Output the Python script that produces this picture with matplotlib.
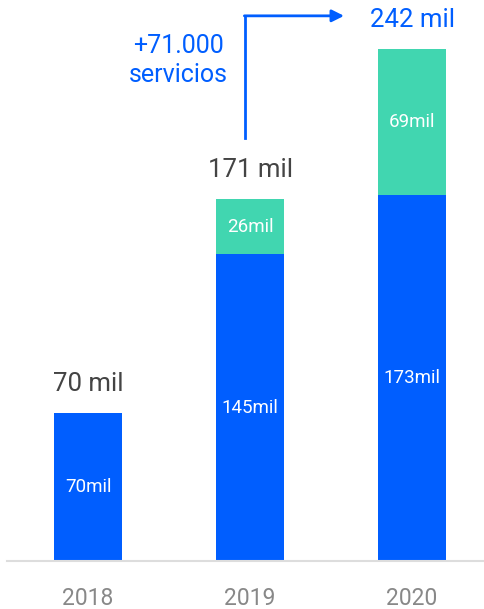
import matplotlib.pyplot as plt

plt.rcParams['font.family'] = ['Roboto', 'DejaVu Sans']

# data (miles de servicios)
years = ['2018', '2019', '2020']
base = [70, 145, 173]
extra = [0, 26, 69]
totals = [70, 171, 242]
base_labels = ['70mil', '145mil', '173mil']
extra_labels = ['', '26mil', '69mil']
total_labels = ['70 mil', '171 mil', '242 mil']
growth_text = '+71.000\nservicios'

BLUE = '#005EFF'
TEAL = '#41D6B0'

fig = plt.figure(figsize=(4.85, 6.09), dpi=100)
ax = fig.add_axes([7 / 485, 48 / 609, 478 / 485, 546 / 609])

xs = list(range(len(years)))
ax.bar(xs, base, width=0.42, color=BLUE)
ax.bar(xs, extra, width=0.42, bottom=base, color=TEAL)

for i in xs:
    ax.text(i, base[i] / 2, base_labels[i], ha='center', va='center',
            color='white', fontsize=13.5)
    if extra[i]:
        ax.text(i, base[i] + extra[i] / 2, extra_labels[i], ha='center',
                va='center', color='white', fontsize=13.5)
    col = BLUE if i == len(years) - 1 else '#444444'
    ax.annotate(total_labels[i], (i, totals[i]), xytext=(0, 21),
                textcoords='offset points', ha='center', va='center',
                color=col, fontsize=18.5)

# growth arrow
ax.plot([0.97, 0.97], [200, 257.6], color=BLUE, lw=2, clip_on=False)
ax.annotate('', xy=(1.58, 257.6), xytext=(0.965, 257.6),
            arrowprops=dict(arrowstyle='-|>', color=BLUE, lw=2,
                            mutation_scale=18, shrinkA=0, shrinkB=0),
            annotation_clip=False)
ax.text(0.56, 236.5, growth_text, ha='center', va='center', color=BLUE,
        fontsize=18, linespacing=1.25)

ax.set_xlim(-0.5, 2.45)
ax.set_ylim(0, 258)
ax.set_xticks(xs)
ax.set_xticklabels(years, fontsize=16.5, color='#888888')
ax.tick_params(axis='x', length=0, pad=19)
ax.set_yticks([])
for s in ['top', 'right', 'left']:
    ax.spines[s].set_visible(False)
ax.spines['bottom'].set_color('#dddddd')
ax.spines['bottom'].set_linewidth(1.5)

fig.savefig('out.png', dpi=100)
